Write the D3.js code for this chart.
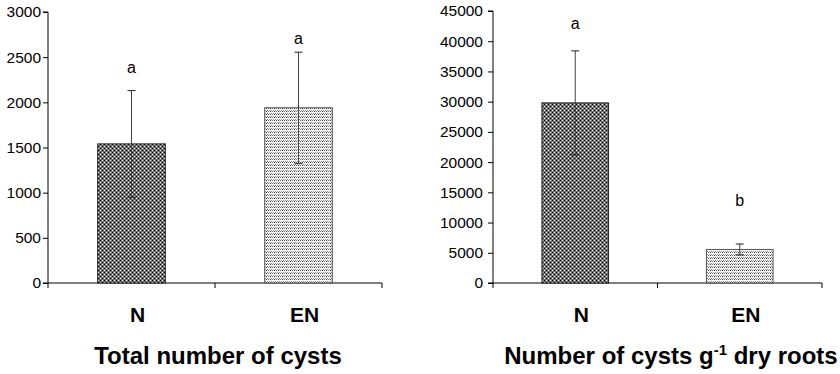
<!DOCTYPE html>
<html>
<head>
<style>
  body {
    margin: 0;
    background-color: #fff;
  }

  svg {
    font-family: "Liberation Sans", Arial, sans-serif;
  }
</style>
  <script src="https://d3js.org/d3.v7.min.js"></script>
</head>
<body>
<script>
// two bar panels, N vs EN, with error bars and letters

const categories = ['N', 'EN'];

// left panel: total number of cysts
const totalMeans = [1540, 1940];
const totalErrors = [590, 615];
const totalLetters = ['a', 'a'];
const totalLetterY = [2390, 2710];
const totalTicks = [0, 500, 1000, 1500, 2000, 2500, 3000];

// right panel: number of cysts per g dry roots
const perGramMeans = [29800, 5550];
const perGramErrors = [8600, 900];
const perGramLetters = ['a', 'b'];
const perGramLetterY = [43000, 13700];
const perGramTicks = [0, 5000, 10000, 15000, 20000, 25000, 30000, 35000, 40000, 45000];

const svg = d3.select('body')
  .append('svg')
  .attr('width', 840)
  .attr('height', 374);

// fill patterns
const defs = svg.append('defs');

const dark = defs.append('pattern')
  .attr('id', 'dark')
  .attr('patternUnits', 'userSpaceOnUse')
  .attr('width', 4)
  .attr('height', 4);
dark.append('rect').attr('width', 4).attr('height', 4).attr('fill', '#6e6e6e');
[[0, 0, '#000'], [2, 2, '#000'], [2, 0, '#fff'], [0, 2, '#fff']]
  .forEach(([x, y, c]) => dark.append('rect').attr('x', x).attr('y', y)
    .attr('width', 1).attr('height', 1).attr('fill', c));

const light = defs.append('pattern')
  .attr('id', 'light')
  .attr('patternUnits', 'userSpaceOnUse')
  .attr('width', 4)
  .attr('height', 3);
light.append('rect').attr('width', 4).attr('height', 3).attr('fill', '#f4f4f4');
[[0, 0, '#777'], [2, 0, '#333'], [1, 2, '#aaa'], [3, 2, '#888']]
  .forEach(([x, y, c]) => light.append('rect').attr('x', x).attr('y', y)
    .attr('width', 1).attr('height', 1).attr('fill', c));

const fills = ['url(#dark)', 'url(#light)'];

const drawPanel = (opts) => {
  const { left, right, top, bottom, max, ticks, means, errors, letters, letterY,
    tickPad, title, titleX, superTitle } = opts;

  const x = d3.scaleBand()
    .domain(categories)
    .range([left, right])
    .padding(0);

  const y = d3.scaleLinear()
    .domain([0, max])
    .range([bottom, top]);

  const g = svg.append('g');

  // y axis
  g.append('g')
    .attr('transform', `translate(${left},0)`)
    .call(d3.axisLeft(y).tickValues(ticks).tickSize(5).tickPadding(tickPad).tickFormat(d3.format('d')))
    .call(a => a.select('.domain').attr('d', `M-5,${bottom}H0V${top}H-5`).attr('stroke', '#000'))
    .call(a => a.selectAll('.tick line').attr('stroke', '#000'))
    .call(a => a.selectAll('.tick text')
      .attr('font-size', 15.5)
      .attr('fill', '#000'));

  // x axis line and boundary ticks
  g.append('line')
    .attr('x1', left).attr('x2', right)
    .attr('y1', bottom).attr('y2', bottom)
    .attr('stroke', '#000');
  const bounds = [left, ...categories.slice(1).map(c => x(c)), right];
  g.selectAll('.xtick')
    .data(bounds)
    .join('line')
    .attr('x1', d => d).attr('x2', d => d)
    .attr('y1', bottom).attr('y2', bottom + 5)
    .attr('stroke', '#000');

  const barW = x.bandwidth() * 0.405;
  const cx = c => x(c) + x.bandwidth() / 2;

  // bars
  g.selectAll('.bar')
    .data(categories)
    .join('rect')
    .attr('x', c => cx(c) - barW / 2)
    .attr('y', (c, i) => y(means[i]))
    .attr('width', barW)
    .attr('height', (c, i) => bottom - y(means[i]))
    .attr('fill', (c, i) => fills[i])
    .attr('stroke', (c, i) => i === 0 ? '#222' : '#555')
    .attr('stroke-width', 1);

  // error bars
  categories.forEach((c, i) => {
    const lo = y(means[i] - errors[i]);
    const hi = y(means[i] + errors[i]);
    g.append('line')
      .attr('x1', cx(c)).attr('x2', cx(c))
      .attr('y1', lo).attr('y2', hi)
      .attr('stroke', '#444');
    [lo, hi].forEach(v => g.append('line')
      .attr('x1', cx(c) - 4).attr('x2', cx(c) + 4)
      .attr('y1', v).attr('y2', v)
      .attr('stroke', '#222'));
    g.append('text')
      .attr('x', cx(c))
      .attr('y', y(letterY[i]))
      .attr('dy', '0.35em')
      .attr('text-anchor', 'middle')
      .attr('font-size', 16)
      .text(letters[i]);
  });

  // category labels
  g.selectAll('.cat')
    .data(categories)
    .join('text')
    .attr('x', c => cx(c) + 6)
    .attr('y', 322)
    .attr('text-anchor', 'middle')
    .attr('font-size', 21)
    .attr('font-weight', 'bold')
    .text(c => c);

  // panel title
  const t = g.append('text')
    .attr('x', titleX)
    .attr('y', 364)
    .attr('text-anchor', 'middle')
    .attr('font-size', 24)
    .attr('font-weight', 'bold');
  if (superTitle) {
    t.append('tspan').text(title[0]);
    t.append('tspan').attr('dy', -9).attr('font-size', 15).text(superTitle);
    t.append('tspan').attr('dy', 9).text(title[1]);
  } else {
    t.text(title);
  }
};

drawPanel({
  left: 48, right: 382, top: 12, bottom: 283, max: 3000,
  ticks: totalTicks, means: totalMeans, errors: totalErrors,
  letters: totalLetters, letterY: totalLetterY, tickPad: 2,
  title: 'Total number of cysts', titleX: 218
});

drawPanel({
  left: 493, right: 822, top: 11, bottom: 283, max: 45000,
  ticks: perGramTicks, means: perGramMeans, errors: perGramErrors,
  letters: perGramLetters, letterY: perGramLetterY, tickPad: 5,
  title: ['Number of cysts g', ' dry roots'], superTitle: '-1', titleX: 671
});
</script>
</body>
</html>
